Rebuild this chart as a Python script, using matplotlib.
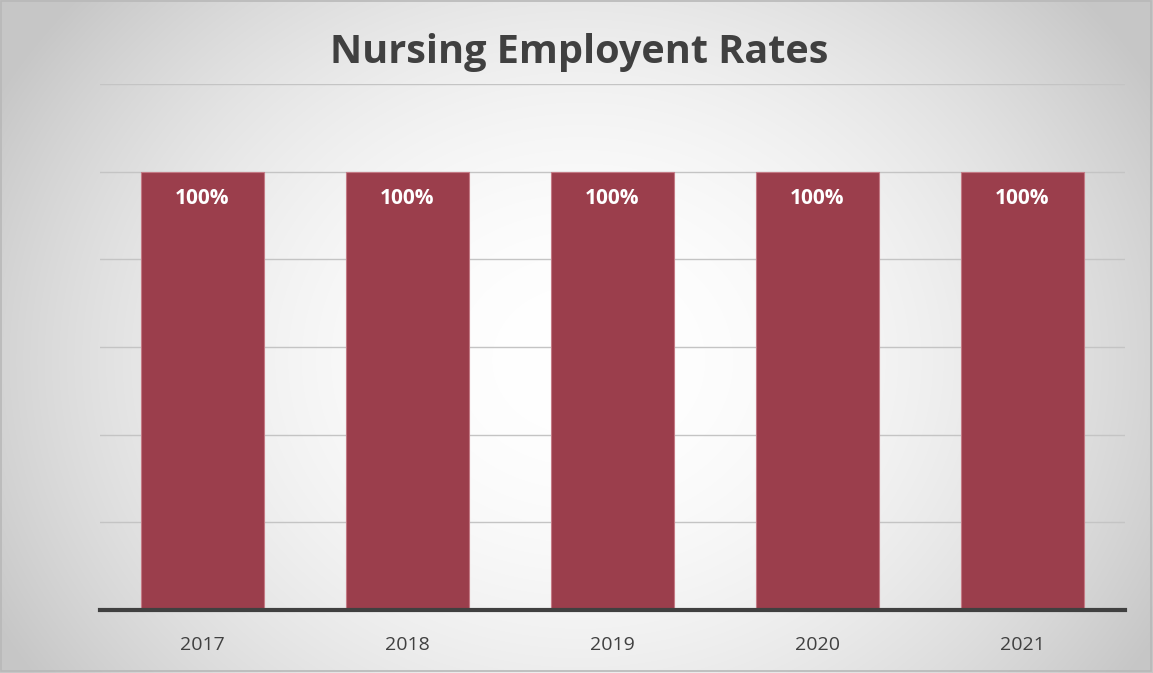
import numpy as np
import matplotlib
matplotlib.use("Agg")
import matplotlib.pyplot as plt

years = ["2017", "2018", "2019", "2020", "2021"]
rates = [100, 100, 100, 100, 100]
labels = ["100%", "100%", "100%", "100%", "100%"]

W, H = 1153, 673
fig = plt.figure(figsize=(W / 100, H / 100), dpi=100)

# radial gradient background
bg = fig.add_axes([0, 0, 1, 1])
yy, xx = np.mgrid[0:H, 0:W]
cx, cy = 580, 360
d2 = ((xx - cx) / 580.0) ** 2 + ((yy - cy) / 490.0) ** 2
v = np.clip(1.0 - 0.17 * d2, 0.78, 1.0)
img = np.dstack([v, v, v])
bg.imshow(img, extent=[0, W, H, 0], aspect="auto", interpolation="bilinear")
bg.set_xlim(0, W)
bg.set_ylim(H, 0)
bg.axis("off")
bg.add_patch(plt.Rectangle((1, 1), W - 3, H - 3, fill=False, edgecolor="#b8b8b8", lw=1.2))

ax = fig.add_axes([100 / W, (H - 610) / H, (1125 - 100) / W, (610 - 84) / H])
ax.patch.set_alpha(0)
x = np.arange(len(years))
bars = ax.bar(x, rates, width=0.6, color="#9B3E4C", edgecolor="#c47a85", linewidth=0.8, zorder=3)
ax.set_xlim(-0.5, len(years) - 0.5)
ax.set_ylim(0, 120)
ax.set_yticks(np.arange(0, 121, 20))
ax.yaxis.grid(True, color="#c4c4c4", lw=1.0, zorder=0)
ax.tick_params(axis="y", left=False, labelleft=False)
ax.tick_params(axis="x", bottom=False, pad=15)
ax.set_xticks(x)
ax.set_xticklabels(years, fontsize=14, color="#404040", fontfamily="Open Sans")
for s in ["top", "right", "left"]:
    ax.spines[s].set_visible(False)
ax.spines["bottom"].set_color("#404040")
ax.spines["bottom"].set_linewidth(3)
ax.spines["bottom"].set_zorder(4)

for xi, r, lab in zip(x, rates, labels):
    ax.annotate(lab, (xi, r), xytext=(0, -27), textcoords="offset pixels",
                ha="center", va="center", color="white", fontsize=15, fontweight="bold",
                fontfamily="Open Sans", zorder=5)

fig.text(579 / W, 1 - 53 / H, "Nursing Employent Rates", ha="center", va="center",
         fontsize=28.5, fontweight="bold", color="#404040", fontfamily="Open Sans")

fig.savefig("out.png", dpi=100)
